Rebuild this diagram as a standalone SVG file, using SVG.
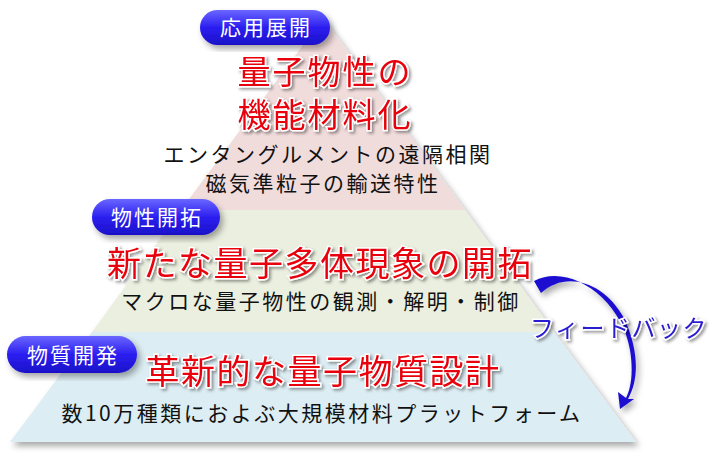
<svg xmlns="http://www.w3.org/2000/svg" width="726" height="456" viewBox="0 0 726 456">
<defs>
<linearGradient id="pill" x1="0" y1="0" x2="0" y2="1"><stop offset="0" stop-color="#6a66ff"/><stop offset="0.5" stop-color="#2c1ff0"/><stop offset="1" stop-color="#1a10c8"/></linearGradient>
<filter id="sh" x="-10%" y="-10%" width="130%" height="130%"><feDropShadow dx="3" dy="4" stdDeviation="3" flood-color="#000" flood-opacity="0.35"/></filter>
<filter id="tsh" x="-10%" y="-20%" width="120%" height="150%"><feDropShadow dx="2" dy="2" stdDeviation="1.5" flood-color="#000" flood-opacity="0.4"/></filter>
</defs>
<style>
text{font-family:"Noto Sans CJK JP","Noto Sans CJK SC",sans-serif;text-anchor:middle}
.pl{fill:#fff;font-size:21px;letter-spacing:2px}
.red{fill:#e8000a;stroke:#fff;stroke-width:3;paint-order:stroke;font-size:34px;letter-spacing:1.5px;filter:url(#tsh)}
.red2{font-size:33px;letter-spacing:2px}
.blk{fill:#111;font-size:21px;letter-spacing:2.5px}
.fb{fill:#2a1ad0;stroke:#fff;stroke-width:3;paint-order:stroke;font-size:24px;letter-spacing:1.5px;filter:url(#tsh)}
</style>
<g id="pyramid" filter="url(#sh)">
<polygon points="323,18 465,210 181,210" fill="#f1dcdc"/>
<polygon points="181,210 465,210 554,332 92,332" fill="#ebefdf"/>
<polygon points="92,332 554,332 636,442 10,442" fill="#dcedf3"/>
</g>
<g id="top">
<rect x="200" y="10" width="130" height="35" rx="17.5" fill="url(#pill)" filter="url(#sh)"/>
<text class="pl" x="266" y="35">応用展開</text>
<text class="red red2" x="325" y="84">量子物性の</text>
<text class="red red2" x="325" y="127">機能材料化</text>
<text class="blk" x="328" y="162">エンタングルメントの遠隔相関</text>
<text class="blk" x="323" y="191">磁気準粒子の輸送特性</text>
</g>
<g id="mid">
<rect x="92" y="199" width="128" height="36" rx="18" fill="url(#pill)" filter="url(#sh)"/>
<text class="pl" x="157" y="225">物性開拓</text>
<text class="red" x="320" y="276">新たな量子多体現象の開拓</text>
<text class="blk" x="321" y="309">マクロな量子物性の観測・解明・制御</text>
</g>
<g id="bottom">
<rect x="7" y="336" width="130" height="37" rx="18.5" fill="url(#pill)" filter="url(#sh)"/>
<text class="pl" x="73" y="363">物質開発</text>
<text class="red" x="323" y="384">革新的な量子物質設計</text>
<text class="blk" x="322" y="421">数10万種類におよぶ大規模材料プラットフォーム</text>
</g>
<g id="connectors">
<path d="M534,281 C570,262 622,300 630,350 C634,375 630,390 626,398 L618,392 L620,409 L634,399 L628,399 C640,378 638,348 624,318 C604,282 566,270 541,293 Z" fill="#1a0fd0" filter="url(#sh)"/>
<text class="fb" x="619" y="337">フィードバック</text>
</g>
</svg>
